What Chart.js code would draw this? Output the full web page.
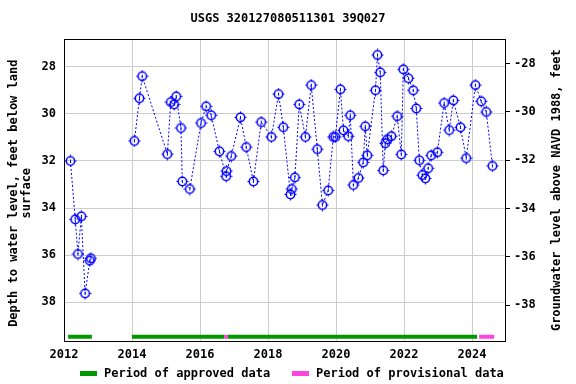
<!DOCTYPE html>
<html><head><meta charset="utf-8">
<script src="https://cdn.jsdelivr.net/npm/chart.js@4"></script>
<style>html,body{margin:0;padding:0;background:#fff}#wrap{width:576px;height:384px}</style>
</head><body><div id="wrap"><canvas id="c" width="576" height="384"></canvas></div>
<script>
const titleText = 'USGS 320127080511301 39Q027';
const leftTitle = ['Depth to water level, feet below land', 'surface'];
const rightTitle = 'Groundwater level above NAVD 1988, feet';
const legendLabels = ['Period of approved data', 'Period of provisional data'];

const years = [2012.19, 2012.33, 2012.41, 2012.51, 2012.62, 2012.76, 2012.79, 2013.4,
  2014.07, 2014.22, 2014.30, 2015.04, 2015.14, 2015.24, 2015.30, 2015.44, 2015.48, 2015.70,
  2016.03, 2016.18, 2016.33, 2016.57, 2016.77, 2016.78, 2016.92, 2017.19, 2017.36, 2017.57, 2017.80,
  2018.10, 2018.31, 2018.45, 2018.66, 2018.70, 2018.79, 2018.92, 2019.10, 2019.27, 2019.45, 2019.60,
  2019.77, 2019.92, 2019.98, 2020.13, 2020.22, 2020.36, 2020.42, 2020.51, 2020.66, 2020.80, 2020.86,
  2020.92, 2021.16, 2021.22, 2021.30, 2021.39, 2021.45, 2021.51, 2021.63, 2021.80, 2021.92, 2021.98,
  2022.13, 2022.27, 2022.36, 2022.45, 2022.54, 2022.63, 2022.71, 2022.80, 2022.98, 2023.18, 2023.33,
  2023.45, 2023.66, 2023.83, 2024.10, 2024.27, 2024.42, 2024.60];
const depths = [32.0, 34.48, 35.95, 34.35, 37.62, 36.23, 36.13, null,
  31.15, 29.34, 28.40, 31.71, 29.5, 29.6, 29.26, 30.6, 32.87, 33.19,
  30.39, 29.68, 30.06, 31.59, 32.65, 32.43, 31.79, 30.15, 31.41, 32.87, 30.35,
  30.98, 29.16, 30.57, 33.42, 33.19, 32.70, 29.6, 30.98, 28.78, 31.5, 33.87,
  33.25, 30.98, 30.98, 28.96, 30.7, 30.95, 30.06, 33.02, 32.72, 32.06, 30.53,
  31.76, 29.0, 27.5, 28.24, 32.40, 31.25, 31.08, 30.95, 30.1, 31.72, 28.11,
  28.49, 29.0, 29.77, 31.97, 32.6, 32.74, 32.31, 31.76, 31.63, 29.54, 30.69,
  29.43, 30.57, 31.88, 28.78, 29.47, 29.92, 32.21];

const approvedStart = [2012.12, 2014.0, 2016.82];
const approvedEnd = [2012.82, 2016.71, 2024.15];
const provisionalStart = [2016.71, 2024.21];
const provisionalEnd = [2016.82, 2024.65];
const barDepth = 39.46;

const xTicks = [2012, 2014, 2016, 2018, 2020, 2022, 2024];
const leftTicks = [28, 30, 32, 34, 36, 38];
const rightTicks = [-28, -30, -32, -34, -36, -38];

const FONT = 'DejaVu Sans Mono';
const GREEN = '#009900';
const PINK = '#ff44dd';
const BLUE = '#0000ff';

function segs(starts, ends) {
  const out = [];
  for (let i = 0; i < starts.length; i++) {
    out.push({x: starts[i], y: barDepth}, {x: ends[i], y: barDepth}, {x: ends[i], y: null});
  }
  return out;
}

function makeMarker() {
  const c = document.createElement('canvas');
  c.width = 13; c.height = 13;
  const g = c.getContext('2d');
  g.strokeStyle = BLUE;
  g.lineWidth = 1.5;
  g.beginPath(); g.arc(6.5, 6.5, 4.2, 0, 2 * Math.PI); g.stroke();
  g.lineWidth = 1;
  g.beginPath();
  g.moveTo(6.5, 0.5); g.lineTo(6.5, 2);
  g.moveTo(6.5, 11); g.lineTo(6.5, 12.5);
  g.moveTo(0.5, 6.5); g.lineTo(2, 6.5);
  g.moveTo(11, 6.5); g.lineTo(12.5, 6.5);
  g.moveTo(6.5, 5); g.lineTo(6.5, 8);
  g.stroke();
  return c;
}

const mainData = years.map((x, i) => ({x: x, y: depths[i]}));

const framePlugin = {
  id: 'frame',
  afterDraw(chart) {
    const {ctx, chartArea: a} = chart;
    ctx.save();
    ctx.strokeStyle = '#000'; ctx.lineWidth = 1;
    ctx.strokeRect(Math.round(a.left) + 0.5, Math.round(a.top) + 0.5, Math.round(a.right - a.left), Math.round(a.bottom - a.top));
    ctx.fillStyle = '#000';
    ctx.font = 'bold 12px "' + FONT + '"';
    ctx.textAlign = 'center'; ctx.textBaseline = 'middle';
    const cy = (a.top + a.bottom) / 2;
    ctx.save();
    ctx.translate(14, cy + 3);
    ctx.rotate(-Math.PI / 2);
    ctx.fillText(leftTitle[0], 0, 0);
    ctx.fillText(leftTitle[1], 0, 13);
    ctx.restore();
    ctx.save();
    ctx.translate(557, cy);
    ctx.rotate(-Math.PI / 2);
    ctx.fillText(rightTitle, 0, 0);
    ctx.restore();
    // legend
    const colors = [GREEN, PINK];
    const boxX = [80, 292];
    const ly = 373;
    ctx.textAlign = 'left';
    for (let i = 0; i < legendLabels.length; i++) {
      ctx.fillStyle = colors[i];
      ctx.fillRect(boxX[i], ly - 2, 17, 5);
      ctx.fillStyle = '#000';
      ctx.fillText(legendLabels[i], boxX[i] + 24, ly + 1);
    }
    ctx.restore();
  }
};

new Chart(document.getElementById('c'), {
  type: 'line',
  data: {
    datasets: [
      {label: 'data', data: mainData, borderColor: BLUE, borderWidth: 1, borderDash: [2, 2],
       pointStyle: makeMarker(), pointRadius: 6, spanGaps: false, fill: false, yAxisID: 'y', order: 1},
      {label: legendLabels[0], data: segs(approvedStart, approvedEnd), borderColor: GREEN, backgroundColor: GREEN,
       borderWidth: 4, borderCapStyle: 'butt', pointRadius: 0, spanGaps: false, yAxisID: 'y', order: 2},
      {label: legendLabels[1], data: segs(provisionalStart, provisionalEnd), borderColor: PINK, backgroundColor: PINK,
       borderWidth: 4, borderCapStyle: 'butt', pointRadius: 0, spanGaps: false, yAxisID: 'y', order: 2}
    ]
  },
  options: {
    responsive: false, animation: false, devicePixelRatio: 1,
    layout: {padding: {left: 0, right: 0, top: 0, bottom: 21}},
    plugins: {
      title: {display: true, text: titleText, color: '#000', font: {family: FONT, size: 12, weight: 'bold'},
              padding: {top: 12, bottom: 13}},
      legend: {display: false},
      tooltip: {enabled: false}
    },
    scales: {
      x: {type: 'linear', min: 2012, max: 2024.97,
        afterBuildTicks: (s) => { s.ticks = xTicks.map(v => ({value: v})); },
        afterFit: (s) => { s.height = 22; },
        grid: {color: '#cccccc', drawTicks: false},
        border: {color: '#000'},
        ticks: {color: '#000', font: {family: FONT, size: 12, weight: 'bold'}, padding: 7, maxRotation: 0,
                callback: (v) => String(v)}
      },
      y: {type: 'linear', position: 'left', reverse: true, min: 26.84, max: 39.64,
        afterBuildTicks: (s) => { s.ticks = leftTicks.map(v => ({value: v})); },
        afterFit: (s) => { s.width = 64; },
        grid: {color: '#cccccc', drawTicks: false},
        border: {color: '#000'},
        ticks: {color: '#000', font: {family: FONT, size: 12, weight: 'bold'}, padding: 8, callback: (v) => String(v)}
      },
      y2: {type: 'linear', position: 'right', min: -39.49, max: -27.0,
        afterBuildTicks: (s) => { s.ticks = rightTicks.map(v => ({value: v})); },
        afterFit: (s) => { s.width = 71; },
        grid: {drawOnChartArea: false, color: '#000', tickLength: 5},
        border: {color: '#000'},
        ticks: {color: '#000', font: {family: FONT, size: 12, weight: 'bold'}, padding: 4, callback: (v) => String(v)}
      }
    }
  },
  plugins: [framePlugin]
});
</script>
</body></html>
